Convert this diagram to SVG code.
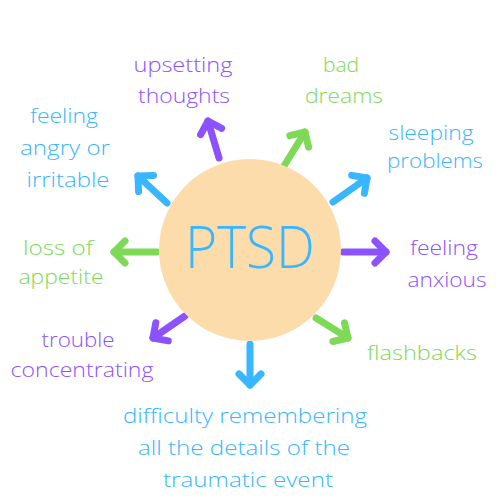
<svg xmlns="http://www.w3.org/2000/svg" width="500" height="500" viewBox="0 0 500 500">
<style>
text{font-family:"Open Sans","Liberation Sans",sans-serif;font-size:21px;font-weight:300;text-anchor:middle;}
.b{fill:#38B6FF}.p{fill:#8C52FF}.g{fill:#7ED957}
.a{fill:none;stroke-width:7;stroke-linecap:round}
.ab{stroke:#38B6FF;marker-end:url(#mb)}.ap{stroke:#8C52FF;marker-end:url(#mp)}.ag{stroke:#7ED957;marker-end:url(#mg)}
</style>
<defs>
<marker id="mb" markerWidth="30" markerHeight="30" refX="15" refY="15" orient="auto" markerUnits="userSpaceOnUse" viewBox="0 0 30 30"><path d="M4,4 L15,15 L4,26" fill="none" stroke="#38B6FF" stroke-width="7" stroke-linecap="round" stroke-linejoin="round"/></marker>
<marker id="mp" markerWidth="30" markerHeight="30" refX="15" refY="15" orient="auto" markerUnits="userSpaceOnUse" viewBox="0 0 30 30"><path d="M4,4 L15,15 L4,26" fill="none" stroke="#8C52FF" stroke-width="7" stroke-linecap="round" stroke-linejoin="round"/></marker>
<marker id="mg" markerWidth="30" markerHeight="30" refX="15" refY="15" orient="auto" markerUnits="userSpaceOnUse" viewBox="0 0 30 30"><path d="M4,4 L15,15 L4,26" fill="none" stroke="#7ED957" stroke-width="7" stroke-linecap="round" stroke-linejoin="round"/></marker>
</defs>
<rect width="500" height="500" fill="#fff"/>
<g id="connectors">
<line class="a ap" x1="219" y1="158" x2="208" y2="121"/>
<line class="a ag" x1="284" y1="166" x2="305" y2="132"/>
<line class="a ab" x1="333" y1="202" x2="367" y2="178"/>
<line class="a ap" x1="343" y1="252" x2="386" y2="252"/>
<line class="a ag" x1="316" y1="318" x2="348" y2="338"/>
<line class="a ab" x1="250" y1="344" x2="250" y2="385"/>
<line class="a ap" x1="185" y1="316" x2="153" y2="338"/>
<line class="a ag" x1="157" y1="252" x2="114" y2="252"/>
<line class="a ab" x1="167" y1="203" x2="138" y2="176"/>
</g>
<g id="ptsd">
<circle cx="250" cy="250" r="91" fill="#FDDCAC"/>
<text x="250" y="268" class="b" style="font-size:58px;font-weight:300" textLength="130" lengthAdjust="spacingAndGlyphs">PTSD</text>
</g>
<g id="upsetting"><text class="p" x="183" y="72" textLength="99" lengthAdjust="spacingAndGlyphs">upsetting</text><text class="p" x="184" y="103" textLength="92" lengthAdjust="spacingAndGlyphs">thoughts</text></g>
<g id="dreams"><text class="g" x="341" y="72">bad</text><text class="g" x="344" y="103" textLength="78" lengthAdjust="spacingAndGlyphs">dreams</text></g>
<g id="sleeping"><text class="b" x="431" y="140" textLength="85" lengthAdjust="spacingAndGlyphs">sleeping</text><text class="b" x="435" y="168" textLength="96" lengthAdjust="spacingAndGlyphs">problems</text></g>
<g id="anxious"><text class="p" x="444" y="255" textLength="68" lengthAdjust="spacingAndGlyphs">feeling</text><text class="p" x="447" y="287" textLength="79" lengthAdjust="spacingAndGlyphs">anxious</text></g>
<g id="flashbacks"><text class="g" x="422" y="360" textLength="110" lengthAdjust="spacingAndGlyphs">flashbacks</text></g>
<g id="difficulty"><text class="b" x="245" y="423" textLength="244" lengthAdjust="spacingAndGlyphs">difficulty remembering</text><text class="b" x="244" y="455" textLength="212" lengthAdjust="spacingAndGlyphs">all the details of the</text><text class="b" x="248" y="487" textLength="170" lengthAdjust="spacingAndGlyphs">traumatic event</text></g>
<g id="trouble"><text class="p" x="78" y="347" textLength="73" lengthAdjust="spacingAndGlyphs">trouble</text><text class="p" x="82" y="377" textLength="143" lengthAdjust="spacingAndGlyphs">concentrating</text></g>
<g id="appetite"><text class="g" x="58" y="255" textLength="70" lengthAdjust="spacingAndGlyphs">loss of</text><text class="g" x="61" y="284" textLength="85" lengthAdjust="spacingAndGlyphs">appetite</text></g>
<g id="angry"><text class="b" x="64" y="123" textLength="68" lengthAdjust="spacingAndGlyphs">feeling</text><text class="b" x="65" y="155" textLength="90" lengthAdjust="spacingAndGlyphs">angry or</text><text class="b" x="68" y="187" textLength="83" lengthAdjust="spacingAndGlyphs">irritable</text></g>
</svg>
